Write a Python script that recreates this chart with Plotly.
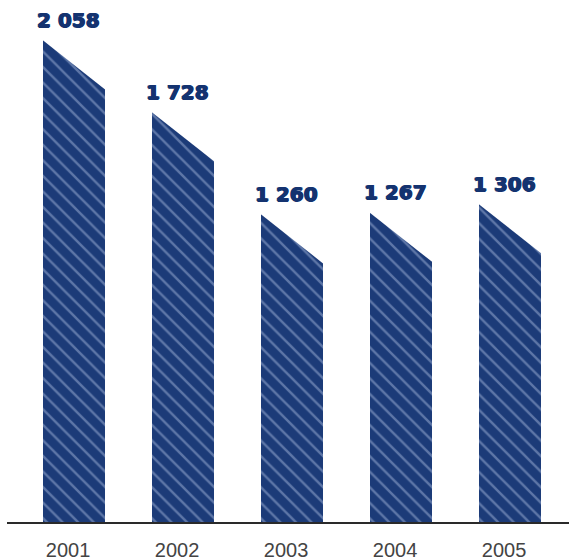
import plotly.graph_objects as go

years = ["2001", "2002", "2003", "2004", "2005"]
values = [2058, 1728, 1260, 1267, 1306]
labels = ["2 058", "1 728", "1 260", "1 267", "1 306"]

NAVY = "#1c3b78"
TEXT_NAVY = "#143370"
Y_MIN, Y_MAX = -153, 2241
BAR_W = 0.57
SLANT = 235  # drop of the slanted top (in value units)

fig = go.Figure()

xs = list(range(len(years)))
fig.add_trace(go.Bar(
    x=xs, y=[v - Y_MIN for v in values], base=Y_MIN, width=BAR_W,
    marker=dict(color=NAVY, line=dict(width=0),
                pattern=dict(shape="\\", fgcolor="#9fb2d6", size=11, solidity=0.22,
                             fillmode="overlay")),
    hoverinfo="skip", showlegend=False,
))

# white masks producing the slanted tops
for i, v in enumerate(values):
    l = i - BAR_W / 2 - 0.01
    r = i + BAR_W / 2 + 0.02
    fig.add_trace(go.Scatter(
        x=[l, r, r, l],
        y=[v + 2, v + 2, v - SLANT, v + 2],
        fill="toself", fillcolor="white", mode="lines",
        line=dict(width=0, color="white"), hoverinfo="skip", showlegend=False,
    ))

for i, (v, t) in enumerate(zip(values, labels)):
    fig.add_annotation(x=i - 0.05, y=v, text=t, showarrow=False,
                       yanchor="bottom", yshift=6,
                       font=dict(family="DejaVu Sans", size=20, color=TEXT_NAVY, weight="bold",
                                 shadow="0.7px 0 0 #143370, -0.7px 0 0 #143370, 0 0.6px 0 #143370"))

fig.update_layout(
    width=569, height=560,
    margin=dict(l=7, r=0, t=0, b=38),
    plot_bgcolor="white", paper_bgcolor="white",
    bargap=0,
    xaxis=dict(range=[-0.615, 4.541], tickmode="array", tickvals=xs, ticktext=years,
               showline=True, linecolor="#2a2a2a", linewidth=1.5,
               ticks="outside", ticklen=9, tickcolor="rgba(0,0,0,0)",
               ticklabelshift=-6,
               showgrid=False, zeroline=False, automargin=False,
               tickfont=dict(family="Liberation Sans", size=20, color="#444444")),
    yaxis=dict(range=[Y_MIN, Y_MAX], visible=False, showgrid=False, zeroline=False),
)

fig.write_html("out.html")
